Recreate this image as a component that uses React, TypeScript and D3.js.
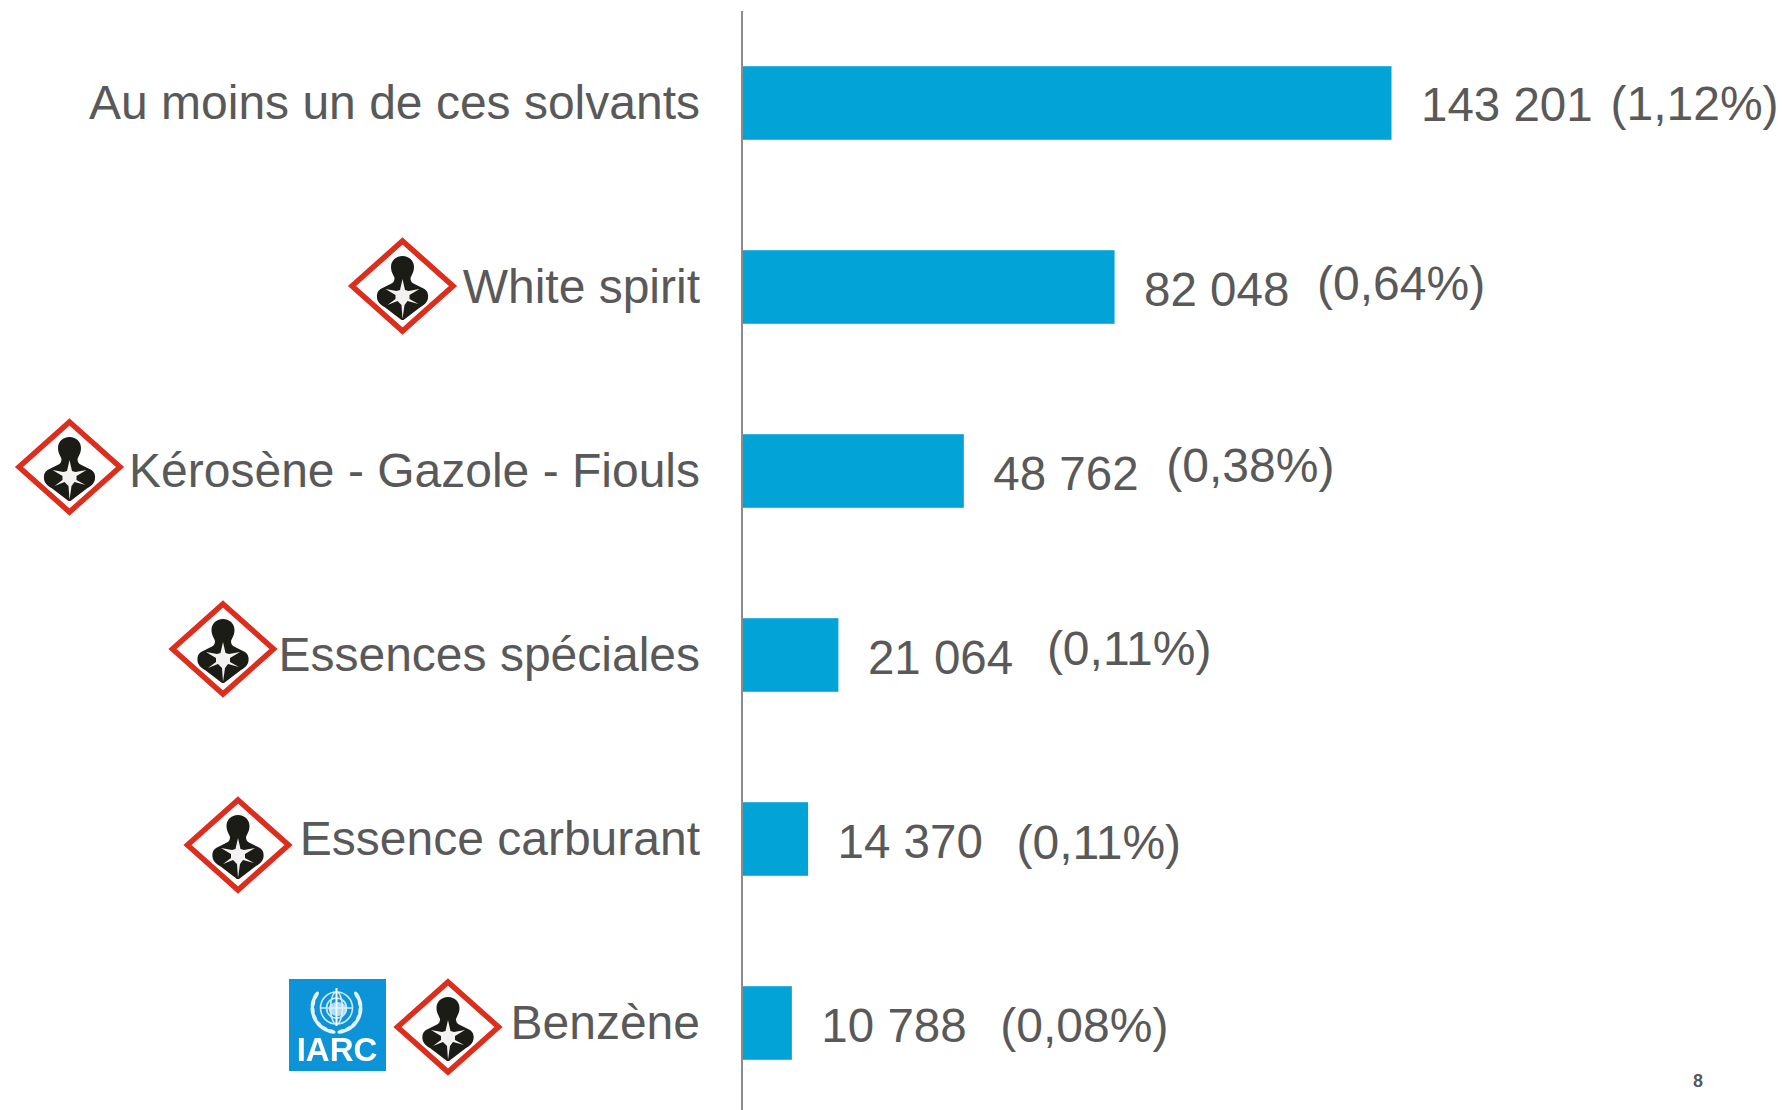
import React from "react";
import * as d3 from "d3";

const categories = ["Au moins un de ces solvants", "White spirit", "Kérosène - Gazole - Fiouls", "Essences spéciales", "Essence carburant", "Benzène"];
const counts = [143201, 82048, 48762, 21064, 14370, 10788];
const countLabels = ["143 201", "82 048", "48 762", "21 064", "14 370", "10 788"];
const shareLabels = ["(1,12%)", "(0,64%)", "(0,38%)", "(0,11%)", "(0,11%)", "(0,08%)"];

const W = 1783, H = 1110;
const AXIS_X = 743;
const FONT = "'Liberation Sans', Arial, sans-serif";
const TEXT = "#595959";
const y = d3.scaleBand<string>().domain(categories).range([11, 1115]).paddingInner(0.6).paddingOuter(0.3);
const x = d3.scaleLinear().domain([0, 143201]).range([AXIS_X, 1391.5]);
const countDy = [1, 2, 2, 2, 2, 2];
const shareGap = [189.5, 173, 173, 179, 179, 179];
const shareDy = [0, -4, -6, -7, 3, 2];
const hazards: [number, number][] = [[402.5, 286], [69.5, 467], [223, 649], [238, 845], [448, 1027]];
const wreathAngles = [-30, -12, 6, 24, 42, 60, 76];

function Hazard({ cx, cy }: { cx: number; cy: number }) {
  return (
    <g transform={`translate(${cx},${cy})`} filter="url(#soft)">
      <path d="M0,-45 L50.5,0 L0,45 L-50.5,0 Z" fill="#fff" stroke="#dc2d1e" strokeWidth={5.5} strokeLinejoin="miter" />
      <path d="M0,-30 C7,-30 11.5,-25 11.5,-19 C11.5,-14 9,-11 8,-8 C8,-5 9,-3 12,-2 L22,3 C25,5 26,8 25.5,12 C25,16 22,19 18,21 L1,34 L-1,34 L-18,21 C-22,19 -25,16 -25.5,12 C-26,8 -25,5 -22,3 L-12,-2 C-9,-3 -8,-5 -8,-8 C-9,-11 -11.5,-14 -11.5,-19 C-11.5,-25 -7,-30 0,-30 Z" fill="#1d1a18" />
      <path d="M0,-7 L2.5,4 L6,5 L17,3 L7,9 L7,13 L16,18 L5,15 L2,19 L0,33 L-1,19 L-5,15 L-15,19 L-7,13 L-7,9 L-17,3 L-6,5 L-2.5,4 Z" fill="#f4f2f0" />
    </g>
  );
}

function Iarc() {
  const gx = 336.5, gy = 1008;
  const r = 24;
  return (
    <g filter="url(#soft)">
      <rect x={289} y={979} width={97} height={92} fill="#0f94d8" />
      <g fill="none" stroke="#cfe8f7" strokeWidth={1.6}>
        <circle cx={gx} cy={gy} r={16} />
        <circle cx={gx} cy={gy} r={10} />
        <ellipse cx={gx} cy={gy} rx={6} ry={16} />
        <path d={`M${gx - 16},${gy} H${gx + 16}`} />
        <path d={`M${gx},${gy - 20} V${gy + 18}`} stroke="#fff" strokeWidth={2} />
      </g>
      <ellipse cx={gx + 1} cy={gy + 1} rx={9} ry={7} fill="#e4f2fb" opacity={0.75} />
      <g fill="#e8f4fc">
        {wreathAngles.map((deg) => {
          const a = (deg * Math.PI) / 180;
          const dx = r * Math.cos(a), dy = r * Math.sin(a);
          return (
            <g key={deg}>
              <ellipse cx={gx + dx} cy={gy + dy} rx={5} ry={2} transform={`rotate(${deg + 90} ${gx + dx} ${gy + dy})`} />
              <ellipse cx={gx - dx} cy={gy + dy} rx={5} ry={2} transform={`rotate(${-deg - 90} ${gx - dx} ${gy + dy})`} />
            </g>
          );
        })}
      </g>
      <text x={337} y={1061} textAnchor="middle" fontFamily={FONT} fontWeight={700} fontSize={33} fill="#fff">IARC</text>
    </g>
  );
}

export default function App() {
  const band = y.bandwidth();
  return (
    <svg width={W} height={H} viewBox={`0 0 ${W} ${H}`} style={{ position: "absolute", left: 0, top: 0, background: "#fff" }}>
      <defs>
        <filter id="soft" x="-5%" y="-5%" width="110%" height="110%">
          <feGaussianBlur stdDeviation={0.5} />
        </filter>
      </defs>
      {categories.map((c, i) => {
        const cy = y(c)! + band / 2;
        return (
          <g key={c}>
            <rect x={AXIS_X} y={y(c)} width={x(counts[i]) - AXIS_X} height={band} fill="#02a4d7" />
            <text x={700} y={cy - 1} dy="0.35em" textAnchor="end" fontFamily={FONT} fontSize={48} fill={TEXT}>{c}</text>
            <text x={x(counts[i]) + 29.5} y={cy + countDy[i]} dy="0.35em" fontFamily={FONT} fontSize={47.5} fill={TEXT}>{countLabels[i]}</text>
            <text x={x(counts[i]) + 29.5 + shareGap[i]} y={cy + shareDy[i]} dy="0.35em" fontFamily={FONT} fontSize={48} fill={TEXT}>{shareLabels[i]}</text>
          </g>
        );
      })}
      <line x1={742} x2={742} y1={11} y2={H} stroke="#8c8c8c" strokeWidth={2} />
      {hazards.map((h) => <Hazard key={h[0]} cx={h[0]} cy={h[1]} />)}
      <Iarc />
      <text x={1698} y={1087} textAnchor="middle" fontFamily={FONT} fontWeight={700} fontSize={18} fill={TEXT}>8</text>
    </svg>
  );
}
